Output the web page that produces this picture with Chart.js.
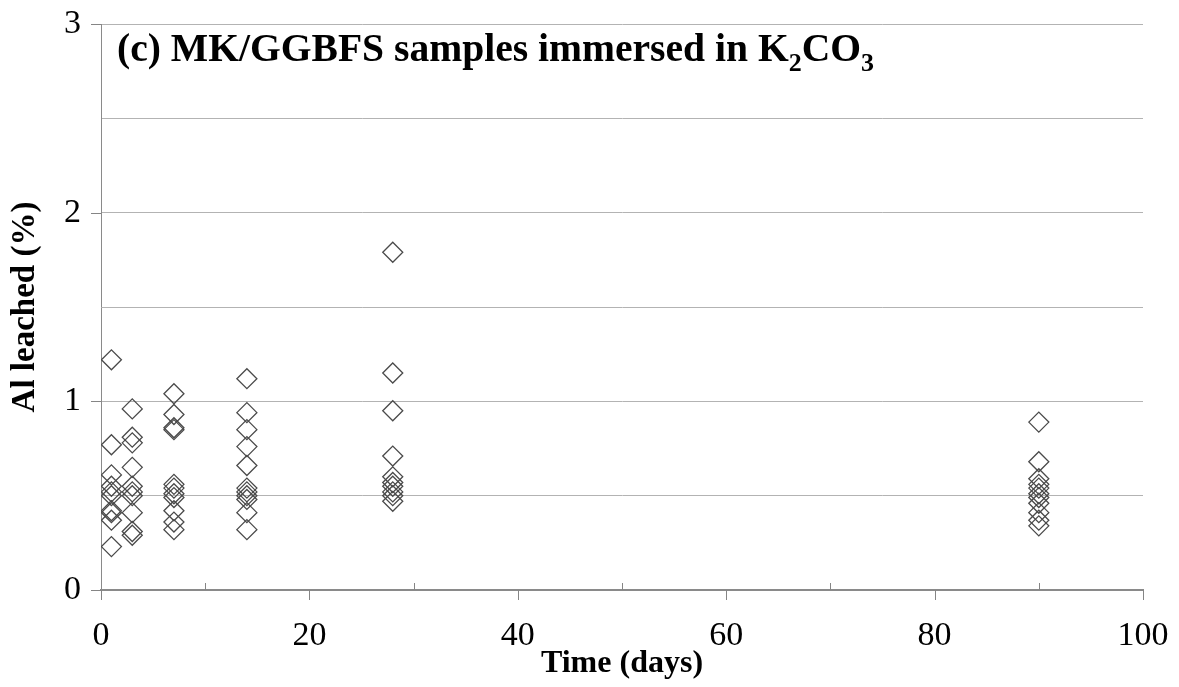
<!DOCTYPE html>
<html>
<head>
<meta charset="utf-8">
<script src="https://cdn.jsdelivr.net/npm/chart.js@4"></script>
<style>
  html, body { margin: 0; padding: 0; background: #fff; }
  #wrap { width: 1179px; height: 687px; }
</style>
</head>
<body>
<div id="wrap"><canvas id="leachchart" width="1179" height="687"></canvas></div>
<script>
// Al leached (%), one list per immersion time (days)
var days = [1, 3, 7, 14, 28, 90];
var day1 = [1.22, 0.77, 0.61, 0.55, 0.52, 0.50, 0.42, 0.41, 0.37, 0.23];
var day3 = [0.96, 0.81, 0.78, 0.65, 0.55, 0.52, 0.50, 0.41, 0.31, 0.29];
var day7 = [1.04, 0.93, 0.86, 0.85, 0.56, 0.54, 0.51, 0.49, 0.42, 0.36, 0.32];
var day14 = [1.12, 0.94, 0.85, 0.76, 0.66, 0.54, 0.52, 0.50, 0.48, 0.41, 0.32];
var day28 = [1.79, 1.15, 0.95, 0.71, 0.60, 0.57, 0.55, 0.52, 0.50, 0.47];
var day90 = [0.89, 0.68, 0.59, 0.56, 0.54, 0.51, 0.49, 0.46, 0.41, 0.37, 0.34];
var yTickLabels = ["0", "1", "2", "3"];

var FONT = "'Liberation Serif', 'Times New Roman', serif";

function build_points() {
    var groups = [day1, day3, day7, day14, day28, day90];
    var pts = [];
    for (var i = 0; i < days.length; i++) {
        for (var j = 0; j < groups[i].length; j++) {
            pts.push({x: days[i], y: groups[i][j]});
        }
    }
    return pts;
}

// tick marks and the in-plot heading
var decor = {
    id: "decor",
    afterDraw: function(chart) {
        var ctx = chart.ctx;
        var area = chart.chartArea;
        var xs = chart.scales.x;
        var ys = chart.scales.y;
        ctx.save();
        ctx.strokeStyle = "#858585";
        ctx.lineWidth = 1;
        ctx.beginPath();
        for (var v = 0; v <= 3; v++) {
            var py = Math.round(ys.getPixelForValue(v)) + 0.5;
            ctx.moveTo(area.left - 10, py);
            ctx.lineTo(area.left, py);
        }
        for (var d = 0; d <= 100; d += 10) {
            var px = Math.round(xs.getPixelForValue(d)) + 0.5;
            if (d % 20 === 0) {
                ctx.moveTo(px, area.bottom);
                ctx.lineTo(px, area.bottom + 10);
            } else {
                ctx.moveTo(px, area.bottom - 7);
                ctx.lineTo(px, area.bottom);
            }
        }
        ctx.stroke();

        // heading with subscripts
        var x = area.left + 16;
        var base = 61;
        var big = "bold 39.6px " + FONT;
        var small = "bold 26px " + FONT;
        var parts = [
            ["(c) MK/GGBFS samples immersed in K", big, 0],
            ["2", small, 10],
            ["CO", big, 0],
            ["3", small, 10]
        ];
        ctx.fillStyle = "#000";
        ctx.textBaseline = "alphabetic";
        ctx.textAlign = "left";
        parts.forEach(function(p) {
            ctx.font = p[1];
            ctx.fillText(p[0], x, base + p[2]);
            x += ctx.measureText(p[0]).width;
        });
        ctx.restore();
    }
};

function main() {
    new Chart(document.getElementById("leachchart"), {
        type: "scatter",
        data: {
            datasets: [{
                label: "Al leached",
                data: build_points(),
                pointStyle: "rectRot",
                pointRadius: 10,
                pointHoverRadius: 10,
                borderColor: "#4a4a4a",
                borderWidth: 1.3,
                backgroundColor: "rgba(0,0,0,0)"
            }]
        },
        options: {
            responsive: false,
            animation: false,
            events: [],
            layout: { padding: { top: 24, right: 36, left: 0, bottom: 0 } },
            plugins: { legend: { display: false }, tooltip: { enabled: false } },
            scales: {
                x: {
                    type: "linear",
                    min: 0,
                    max: 100,
                    afterFit: function(s) {
                        s.height = 97;
                        s.paddingLeft = 0;
                        s.paddingRight = 0;
                    },
                    ticks: {
                        stepSize: 10,
                        padding: 26,
                        maxRotation: 0,
                        autoSkip: false,
                        color: "#000",
                        font: { family: FONT, size: 34 },
                        callback: function(v) { return v % 20 === 0 ? String(v) : ""; }
                    },
                    grid: { drawOnChartArea: false, drawTicks: false },
                    border: { color: "#8a8a8a", width: 2 },
                    title: {
                        display: true,
                        text: "Time (days)",
                        color: "#000",
                        font: { family: FONT, size: 32, weight: "bold" },
                        padding: { top: 0, bottom: 4 }
                    }
                },
                y: {
                    min: 0,
                    max: 3,
                    afterFit: function(s) {
                        s.width = 101;
                        s.paddingTop = 0;
                        s.paddingBottom = 0;
                    },
                    ticks: {
                        stepSize: 0.5,
                        padding: 20,
                        color: "#000",
                        font: { family: FONT, size: 34 },
                        callback: function(v) { return Number.isInteger(v) ? yTickLabels[v] : ""; }
                    },
                    grid: { color: "#b3b3b3", lineWidth: 1, drawTicks: false },
                    border: { color: "#8a8a8a", width: 1 },
                    title: {
                        display: true,
                        text: "Al leached (%)",
                        color: "#000",
                        font: { family: FONT, size: 33, weight: "bold" },
                        padding: { top: 6, bottom: 0 }
                    }
                }
            }
        },
        plugins: [decor]
    });
}

main();
</script>
</body>
</html>
